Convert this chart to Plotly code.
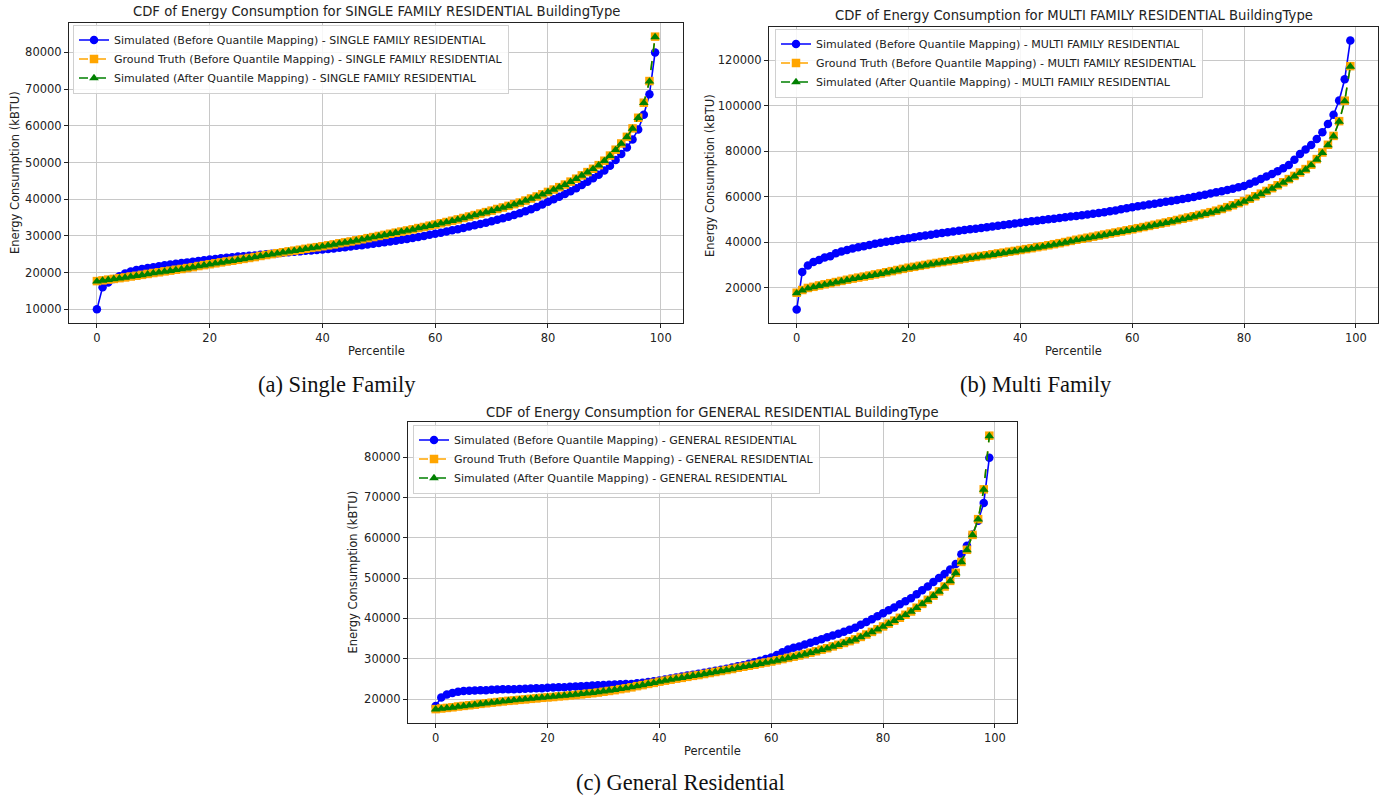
import plotly.graph_objects as go

W, H = 1385, 796
percentile = list(range(100))

# ---------------- (a) SINGLE FAMILY ----------------
sf_sim_before = [10000, 16000, 17300, 18300, 19000, 19800, 20300, 20700, 21000, 21300,
                 21500, 21750, 22000, 22200, 22400, 22600, 22800, 23000, 23200, 23400,
                 23600, 23750, 23900, 24050, 24200, 24400, 24500, 24600, 24700, 24850,
                 25000, 25150, 25300, 25400, 25550, 25700, 25800, 25950, 26050, 26200,
                 26300, 26450, 26600, 26800, 26950, 27100, 27300, 27500, 27700, 27900,
                 28100, 28300, 28500, 28700, 28950, 29200, 29450, 29700, 30000, 30300,
                 30600, 30900, 31200, 31550, 31850, 32200, 32550, 32900, 33250, 33600,
                 34000, 34400, 34800, 35250, 35700, 36200, 36750, 37300, 37900, 38550,
                 39300, 40000, 40700, 41450, 42200, 43000, 43900, 44800, 45700, 46700,
                 47800, 49100, 50700, 52300, 54100, 56300, 59000, 63000, 68600, 80000]
sf_ground_truth = [17700, 17900, 18100, 18300, 18500, 18700, 18950, 19150, 19400, 19650,
                   19900, 20100, 20350, 20550, 20800, 21000, 21250, 21500, 21800, 22050,
                   22300, 22550, 22800, 23050, 23250, 23500, 23750, 24000, 24250, 24550,
                   24800, 25050, 25300, 25550, 25800, 26000, 26250, 26500, 26750, 26950,
                   27200, 27450, 27700, 28000, 28250, 28500, 28800, 29100, 29400, 29700,
                   30000, 30300, 30600, 30900, 31200, 31500, 31800, 32150, 32450, 32800,
                   33100, 33450, 33800, 34150, 34500, 34900, 35300, 35700, 36100, 36500,
                   36900, 37350, 37750, 38200, 38650, 39100, 39650, 40200, 40750, 41350,
                   42000, 42650, 43300, 44000, 44800, 45600, 46500, 47400, 48300, 49300,
                   50500, 51900, 53500, 55200, 57000, 59300, 62200, 66300, 72200, 84300]
sf_sim_after = [17600, 17850, 18050, 18250, 18450, 18650, 18900, 19100, 19350, 19600,
                19850, 20050, 20300, 20500, 20750, 20950, 21200, 21450, 21750, 22000,
                22250, 22500, 22750, 23000, 23200, 23450, 23700, 23950, 24200, 24500,
                24750, 25000, 25250, 25500, 25750, 25950, 26200, 26450, 26700, 26900,
                27150, 27400, 27650, 27950, 28200, 28450, 28750, 29050, 29350, 29650,
                29950, 30250, 30550, 30850, 31150, 31450, 31750, 32100, 32400, 32750,
                33050, 33400, 33750, 34100, 34450, 34850, 35250, 35650, 36050, 36450,
                36850, 37300, 37700, 38150, 38600, 39050, 39600, 40150, 40700, 41300,
                41950, 42600, 43250, 43950, 44750, 45550, 46450, 47350, 48250, 49250,
                50450, 51850, 53450, 55150, 56950, 59250, 62150, 66250, 72100, 84200]

# ---------------- (b) MULTI FAMILY ----------------
mf_sim_before = [10400, 26900, 29800, 31300, 32200, 33300, 33900, 35200, 35900, 36600,
                 37300, 37800, 38300, 38800, 39300, 39800, 40200, 40600, 41000, 41400,
                 41800, 42200, 42600, 43000, 43350, 43700, 44050, 44400, 44700, 45050,
                 45400, 45700, 46000, 46300, 46600, 46900, 47250, 47600, 47900, 48250,
                 48600, 48900, 49200, 49500, 49800, 50100, 50400, 50700, 51000, 51300,
                 51600, 51900, 52200, 52550, 52850, 53200, 53600, 54000, 54500, 54950,
                 55400, 55800, 56200, 56600, 57000, 57400, 57800, 58200, 58650, 59050,
                 59500, 59950, 60450, 60950, 61450, 62000, 62500, 63050, 63600, 64200,
                 64800, 65700, 66700, 67800, 68900, 70000, 71300, 72600, 74000, 76300,
                 78800, 80800, 82800, 85400, 88400, 92000, 96100, 102400, 111700, 128800]
mf_ground_truth = [17800, 19000, 19900, 20400, 21000, 21500, 22000, 22500, 23000, 23500,
                   24000, 24450, 24900, 25350, 25850, 26300, 26800, 27300, 27800, 28300,
                   28800, 29200, 29650, 30050, 30500, 30900, 31300, 31650, 32050, 32400,
                   32800, 33200, 33550, 33950, 34300, 34700, 35100, 35450, 35850, 36200,
                   36600, 37000, 37400, 37850, 38250, 38700, 39150, 39600, 40100, 40600,
                   41100, 41550, 42000, 42450, 42950, 43400, 43850, 44300, 44750, 45250,
                   45700, 46200, 46700, 47200, 47700, 48200, 48700, 49250, 49800, 50350,
                   50900, 51450, 52050, 52650, 53250, 53900, 54650, 55450, 56300, 57200,
                   58100, 59150, 60250, 61400, 62600, 63800, 65100, 66400, 67800, 69200,
                   70700, 72200, 74100, 76600, 79500, 82900, 86800, 93300, 102300, 117500]
mf_sim_after = [17600, 18800, 19700, 20250, 20850, 21350, 21850, 22350, 22850, 23350,
                23850, 24300, 24750, 25200, 25700, 26150, 26650, 27150, 27650, 28150,
                28600, 29000, 29450, 29850, 30300, 30700, 31100, 31450, 31850, 32200,
                32600, 33000, 33350, 33750, 34100, 34500, 34900, 35250, 35650, 36000,
                36400, 36800, 37200, 37650, 38050, 38500, 38950, 39400, 39900, 40400,
                40900, 41350, 41800, 42250, 42750, 43200, 43650, 44100, 44550, 45050,
                45500, 46000, 46500, 47000, 47500, 48000, 48500, 49050, 49600, 50150,
                50700, 51250, 51850, 52450, 53050, 53700, 54450, 55250, 56100, 57000,
                57900, 58950, 60050, 61200, 62400, 63600, 64900, 66200, 67600, 69000,
                70500, 72000, 73900, 76400, 79300, 82700, 86600, 93100, 102100, 117300]

# ---------------- (c) GENERAL RESIDENTIAL ----------------
gr_sim_before = [18300, 20400, 21100, 21500, 21800, 22000, 22050, 22100, 22150, 22200,
                 22300, 22350, 22400, 22450, 22450, 22500, 22550, 22600, 22650, 22700,
                 22800, 22850, 22900, 22950, 23050, 23100, 23200, 23250, 23350, 23400,
                 23500, 23550, 23600, 23650, 23700, 23750, 23900, 24050, 24200, 24400,
                 24600, 24850, 25100, 25350, 25600, 25850, 26050, 26300, 26500, 26750,
                 27000, 27250, 27500, 27800, 28100, 28400, 28750, 29100, 29500, 29900,
                 30300, 30900, 31600, 32300, 32700, 33000, 33500, 33950, 34400, 34850,
                 35300, 35750, 36200, 36700, 37200, 37700, 38400, 39100, 39800, 40550,
                 41300, 42000, 42700, 43500, 44250, 45000, 46000, 46950, 47900, 49000,
                 50000, 51000, 52100, 53500, 55900, 58000, 60800, 64200, 68600, 79800]
gr_ground_truth = [17500, 17650, 17800, 17950, 18150, 18300, 18450, 18600, 18800, 18950,
                   19100, 19250, 19400, 19550, 19650, 19800, 19900, 20050, 20150, 20300,
                   20400, 20500, 20650, 20750, 20900, 21000, 21150, 21300, 21450, 21600,
                   21800, 22000, 22200, 22450, 22650, 22900, 23200, 23450, 23750, 24000,
                   24300, 24550, 24800, 25050, 25250, 25500, 25750, 25950, 26200, 26450,
                   26700, 26950, 27200, 27450, 27750, 28000, 28250, 28500, 28800, 29050,
                   29300, 29600, 29900, 30200, 30500, 30800, 31150, 31500, 31850, 32250,
                   32600, 33050, 33450, 33900, 34350, 34800, 35400, 36000, 36650, 37300,
                   38000, 38700, 39450, 40150, 40900, 41700, 42650, 43600, 44600, 45650,
                   46700, 47900, 49300, 51300, 54000, 57000, 60700, 64600, 72000, 85300]
gr_sim_after = [17450, 17600, 17750, 17900, 18100, 18250, 18400, 18600, 18750, 18950,
                19100, 19250, 19400, 19550, 19700, 19850, 19950, 20100, 20250, 20350,
                20500, 20600, 20750, 20850, 21000, 21100, 21250, 21400, 21550, 21700,
                21900, 22100, 22300, 22500, 22700, 22950, 23200, 23450, 23750, 24000,
                24300, 24550, 24800, 25050, 25250, 25500, 25750, 25950, 26200, 26450,
                26700, 26950, 27150, 27400, 27700, 27950, 28200, 28450, 28750, 29000,
                29250, 29550, 29850, 30150, 30450, 30750, 31100, 31450, 31800, 32200,
                32550, 33000, 33400, 33850, 34300, 34750, 35350, 35950, 36600, 37250,
                37950, 38650, 39400, 40100, 40850, 41650, 42600, 43550, 44550, 45600,
                46650, 47850, 49250, 51250, 53950, 56950, 60650, 64550, 71950, 85200]

x_ticks = [0, 20, 40, 60, 80, 100]
sf_y_ticks = [10000, 20000, 30000, 40000, 50000, 60000, 70000, 80000]
mf_y_ticks = [20000, 40000, 60000, 80000, 100000, 120000]
gr_y_ticks = [20000, 30000, 40000, 50000, 60000, 70000, 80000]

panels = [
    dict(name="SINGLE FAMILY RESIDENTIAL", data=(sf_sim_before, sf_ground_truth, sf_sim_after),
         yticks=sf_y_ticks, box=(69, 683, 23, 323), title_y=12, caption="(a) Single Family",
         cap_xy=(337, 384), ylab_x=15, leg=(73, 24.5)),
    dict(name="MULTI FAMILY RESIDENTIAL", data=(mf_sim_before, mf_ground_truth, mf_sim_after),
         yticks=mf_y_ticks, box=(769, 1378, 27, 323), title_y=16, caption="(b) Multi Family",
         cap_xy=(1036, 384), ylab_x=710, leg=(775, 28.5)),
    dict(name="GENERAL RESIDENTIAL", data=(gr_sim_before, gr_ground_truth, gr_sim_after),
         yticks=gr_y_ticks, box=(408, 1017, 422, 723), title_y=412, caption="(c) General Residential",
         cap_xy=(680, None), ylab_x=352, leg=(413, 424.5)),
]

FONT = "DejaVu Sans"
TXT = "#222222"

def px(x):
    return x / W

def py(y):
    return 1 - y / H

fig = go.Figure()
annotations = []
layout_upd = {}

styles = [
    ("Simulated (Before Quantile Mapping)", "#0000ff", "solid", "circle"),
    ("Ground Truth (Before Quantile Mapping)", "#ffa500", "dash", "square"),
    ("Simulated (After Quantile Mapping)", "#008000", "dash", "triangle-up"),
]

for i, p in enumerate(panels):
    k = "" if i == 0 else str(i + 1)
    xa, ya = "x" + k, "y" + k
    leg = "legend" + k
    for (label, color, dash, sym), vals in zip(styles, p["data"]):
        fig.add_trace(go.Scatter(
            x=percentile, y=vals, mode="lines+markers",
            name=f"{label} - {p['name']}",
            line=dict(color=color, width=1.6, dash=dash),
            marker=dict(symbol=sym, size=8.5, color=color, line=dict(width=0)),
            xaxis=xa, yaxis=ya, legend=leg,
        ))
    allv = [v for s in p["data"] for v in s]
    lo, hi = min(allv), max(allv)
    pad = (hi - lo) * 0.05
    x0, x1, y0, y1 = p["box"]
    axis_common = dict(showline=True, mirror=True, linecolor="#222222", linewidth=1,
                       showgrid=True, gridcolor="#c8c8c8", gridwidth=1, zeroline=False,
                       ticks="outside", ticklen=4, tickcolor="#222222",
                       tickfont=dict(family=FONT, size=11.5, color=TXT))
    layout_upd["xaxis" + k] = dict(axis_common, domain=[px(x0), px(x1)], anchor=ya,
                                   range=[-4.95, 103.95], tickvals=x_ticks)
    layout_upd["yaxis" + k] = dict(axis_common, domain=[py(y1), py(y0)], anchor=xa,
                                   range=[lo - pad, hi + pad], tickvals=p["yticks"],
                                   tickformat="d")
    layout_upd[leg] = dict(x=px(p["leg"][0]), y=py(p["leg"][1]), xanchor="left", yanchor="top",
                           bgcolor="rgba(255,255,255,0.85)", bordercolor="#d0d0d0", borderwidth=1,
                           font=dict(family=FONT, size=11, color=TXT), itemwidth=30,
                           tracegroupgap=0)
    cx = (x0 + x1) / 2
    annotations.append(dict(text=f"CDF of Energy Consumption for {p['name']} BuildingType",
                            x=px(cx), y=py(p["title_y"]), xref="paper", yref="paper",
                            showarrow=False, xanchor="center", yanchor="middle",
                            font=dict(family=FONT, size=13.2, color=TXT)))
    annotations.append(dict(text="Percentile", x=px(cx), y=py(y1 + 28), xref="paper", yref="paper",
                            showarrow=False, xanchor="center", yanchor="middle",
                            font=dict(family=FONT, size=11.5, color=TXT)))
    annotations.append(dict(text="Energy Consumption (kBTU)", x=px(p["ylab_x"]), y=py((y0 + y1) / 2),
                            xref="paper", yref="paper", showarrow=False, textangle=-90,
                            xanchor="center", yanchor="middle",
                            font=dict(family=FONT, size=11.5, color=TXT)))
    cap_x, cap_y = p["cap_xy"]
    if cap_y is None:
        cap_pos = dict(y=0, yanchor="bottom")
    else:
        cap_pos = dict(y=py(cap_y), yanchor="middle")
    annotations.append(dict(text=p["caption"], x=px(cap_x), xref="paper", yref="paper",
                            showarrow=False, xanchor="center", borderpad=0,
                            font=dict(family="Liberation Serif", size=22.5, color="#111111"),
                            **cap_pos))

fig.update_layout(width=W, height=H, margin=dict(l=0, r=0, t=0, b=0),
                  paper_bgcolor="white", plot_bgcolor="white", hovermode=False,
                  annotations=annotations, **layout_upd)

fig.write_html("out.html", config={"displayModeBar": False},
               post_script="document.body.style.margin='0';document.body.style.padding='0';"
                           "document.documentElement.style.overflow='hidden';")
